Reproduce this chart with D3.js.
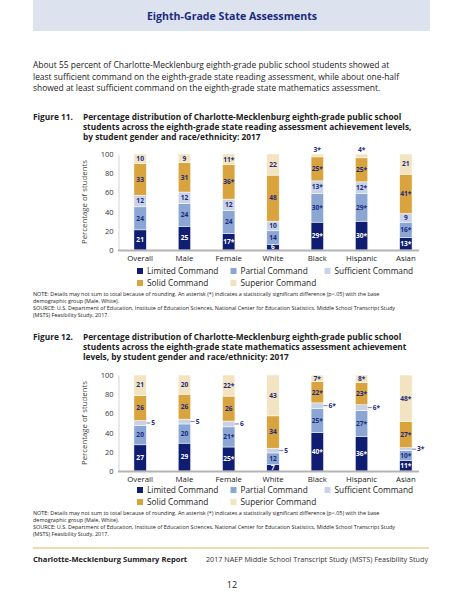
<!DOCTYPE html>
<html>
<head>
<meta charset="utf-8">
<script src="https://cdn.jsdelivr.net/npm/d3@7"></script>
<style>
  body { margin: 0; background: #fff; }
  svg { display: block; font-family: "Open Sans", "Noto Sans", sans-serif; }
</style>
</head>
<body>
<div id="vis"></div>
<script>
const width = 464;
const height = 600;

const categories = ["Overall", "Male", "Female", "White", "Black", "Hispanic", "Asian"];
const levels = ["Limited Command", "Partial Command", "Sufficient Command", "Solid Command", "Superior Command"];
const levelColors = ["#0f1d72", "#8ca6d4", "#c9d3e7", "#d9a43e", "#f3e4c1"];

// Figure 11: reading
const readLimited    = [21, 25, 17, 6, 29, 30, 13];
const readPartial    = [24, 24, 24, 14, 30, 29, 16];
const readSufficient = [12, 12, 12, 10, 13, 12, 9];
const readSolid      = [33, 31, 36, 48, 25, 25, 41];
const readSuperior   = [10, 9, 11, 22, 3, 4, 21];
// asterisk flags (significant difference from base group)
const readLimitedSig    = [0, 0, 1, 0, 1, 1, 1];
const readPartialSig    = [0, 0, 0, 0, 1, 1, 1];
const readSufficientSig = [0, 0, 0, 0, 1, 1, 0];
const readSolidSig      = [0, 0, 1, 0, 1, 1, 1];
const readSuperiorSig   = [0, 0, 1, 0, 1, 1, 0];

// Figure 12: mathematics
const mathLimited    = [27, 29, 25, 7, 40, 36, 11];
const mathPartial    = [20, 20, 21, 12, 25, 27, 10];
const mathSufficient = [5, 5, 6, 5, 6, 6, 3];
const mathSolid      = [26, 26, 26, 34, 22, 23, 27];
const mathSuperior   = [21, 20, 22, 43, 7, 8, 48];
const mathLimitedSig    = [0, 0, 1, 0, 1, 1, 1];
const mathPartialSig    = [0, 0, 1, 0, 1, 1, 1];
const mathSufficientSig = [0, 0, 0, 0, 1, 1, 1];
const mathSolidSig      = [0, 0, 0, 0, 1, 1, 1];
const mathSuperiorSig   = [0, 0, 1, 0, 1, 1, 1];

const yTicks = [0, 20, 40, 60, 80, 100];

const navy = "#1b2a80";

function buildRows(series, sigs) {
  return categories.map((c, i) => {
    const row = { category: c };
    levels.forEach((l, j) => {
      row[l] = series[j][i];
      row[l + "_sig"] = sigs[j][i];
    });
    return row;
  });
}

const svg = d3.select("#vis").append("svg")
  .attr("width", width)
  .attr("height", height);

// header band
svg.append("rect").attr("x", 33).attr("y", 0).attr("width", 397).attr("height", 31).attr("fill", "#dce3ee");
svg.append("text").attr("x", 232).attr("y", 19.5).attr("text-anchor", "middle")
  .attr("font-size", 10.6).attr("font-weight", 700).attr("fill", navy)
  .text("Eighth-Grade State Assessments");

// intro paragraph
const intro = [
  "About 55 percent of Charlotte-Mecklenburg eighth-grade public school students showed at",
  "least sufficient command on the eighth-grade state reading assessment, while about one-half",
  "showed at least sufficient command on the eighth-grade state mathematics assessment."
];
svg.append("g").selectAll("text").data(intro).enter().append("text")
  .attr("x", 33).attr("y", (d, i) => 68 + i * 11.7)
  .attr("font-size", 8.45).attr("fill", "#222").text(d => d);

function figureTitle(top, num, lines) {
  const g = svg.append("g").attr("font-size", 8.3).attr("font-weight", 700).attr("fill", "#222");
  g.append("text").attr("x", 33).attr("y", top).text(num);
  g.selectAll("text.t").data(lines).enter().append("text").attr("class", "t")
    .attr("x", 83).attr("y", (d, i) => top + i * 10.2).text(d => d);
}

figureTitle(120, "Figure 11.", [
  "Percentage distribution of Charlotte-Mecklenburg eighth-grade public school",
  "students across the eighth-grade state reading assessment achievement levels,",
  "by student gender and race/ethnicity: 2017"
]);

figureTitle(340, "Figure 12.", [
  "Percentage distribution of Charlotte-Mecklenburg eighth-grade public school",
  "students across the eighth-grade state mathematics assessment achievement",
  "levels, by student gender and race/ethnicity: 2017"
]);

function drawChart(rows, top, bottom) {
  const x = d3.scaleBand().domain(categories).range([118, 428]).paddingInner(0.72).paddingOuter(0.36);
  const y = d3.scaleLinear().domain([0, 1]).range([bottom, top]);
  const stack = d3.stack().keys(levels).offset(d3.stackOffsetExpand);
  const series = stack(rows);

  const g = svg.append("g");

  // y axis
  const yAxis = d3.axisLeft(y).tickValues(yTicks.map(d => d / 100))
    .tickFormat(d => Math.round(d * 100)).tickSize(0).tickPadding(5);
  const ax = g.append("g").attr("transform", "translate(118.5,0)").call(yAxis);
  ax.select(".domain").attr("stroke", "#c8c8c8").attr("stroke-width", 0.8);
  ax.selectAll("text").attr("font-size", 7.5).attr("fill", "#333")
    .attr("font-family", "Open Sans, sans-serif");

  g.append("text")
    .attr("transform", "translate(87," + ((top + bottom) / 2) + ") rotate(-90)")
    .attr("text-anchor", "middle").attr("font-size", 7.8).attr("fill", "#444")
    .text("Percentage of students");

  // bars
  const layer = g.selectAll("g.layer").data(series).enter().append("g")
    .attr("class", "layer").attr("fill", (d, i) => levelColors[i]);
  layer.selectAll("rect").data(d => d).enter().append("rect")
    .attr("x", d => x(d.data.category))
    .attr("width", x.bandwidth())
    .attr("y", d => y(d[1]))
    .attr("height", d => y(d[0]) - y(d[1]))
    .attr("stroke", "#fff").attr("stroke-width", 0.5);

  // baseline
  g.append("line").attr("x1", 118).attr("x2", x("Asian") + x.bandwidth() + 7)
    .attr("y1", bottom + 0.5).attr("y2", bottom + 0.5)
    .attr("stroke", "#b4b4b4").attr("stroke-width", 2);

  // value labels
  series.forEach((s, li) => {
    const key = levels[li];
    s.forEach(d => {
      const v = d.data[key];
      const label = v + (d.data[key + "_sig"] ? "*" : "");
      const cx = x(d.data.category) + x.bandwidth() / 2;
      const cy = (y(d[0]) + y(d[1])) / 2;
      const lbl = g.append("text").attr("font-size", 6.6).attr("font-weight", 700)
        .attr("fill", li === 0 ? "#fff" : navy).text(label);
      if (li === levels.length - 1 && v < 5) {
        lbl.attr("x", cx).attr("y", y(d[1]) - 2.5).attr("text-anchor", "middle");
      } else if (li === 2 && v <= 6) {
        const xr = x(d.data.category) + x.bandwidth();
        g.append("line").attr("x1", xr).attr("x2", xr + 4).attr("y1", cy).attr("y2", cy)
          .attr("stroke", navy).attr("stroke-width", 0.6);
        lbl.attr("x", xr + 5).attr("y", cy + 2.3);
      } else {
        lbl.attr("x", cx).attr("y", cy + 2.3).attr("text-anchor", "middle");
      }
    });
  });

  // category labels
  g.selectAll("text.cat").data(categories).enter().append("text").attr("class", "cat")
    .attr("x", d => x(d) + x.bandwidth() / 2).attr("y", bottom + 11)
    .attr("text-anchor", "middle").attr("font-size", 7.8).attr("fill", "#222")
    .text(d => d);
}

function drawLegend(top) {
  const cols = [137, 230.5, 324.5];
  const g = svg.append("g");
  const item = g.selectAll("g").data(levels).enter().append("g")
    .attr("transform", (d, i) => "translate(" + cols[i % 3] + "," + (top + Math.floor(i / 3) * 12) + ")");
  item.append("rect").attr("x", 0).attr("y", -3).attr("width", 6).attr("height", 6)
    .attr("fill", (d, i) => levelColors[i]);
  item.append("text").attr("x", 10).attr("y", 2.9).attr("font-size", 8.3).attr("fill", "#222")
    .text(d => d);
}

function drawNote(top) {
  const lines = [
    "NOTE: Details may not sum to total because of rounding. An asterisk (*) indicates a statistically significant difference (p<.05) with the base",
    "demographic group (Male, White).",
    "SOURCE: U.S. Department of Education, Institute of Education Sciences, National Center for Education Statistics, Middle School Transcript Study",
    "(MSTS) Feasibility Study, 2017."
  ];
  svg.append("g").selectAll("text").data(lines).enter().append("text")
    .attr("x", 33).attr("y", (d, i) => top + i * 6.9)
    .attr("font-size", 5.45).attr("fill", "#222")
    .text(d => d);
}

const readRows = buildRows(
  [readLimited, readPartial, readSufficient, readSolid, readSuperior],
  [readLimitedSig, readPartialSig, readSufficientSig, readSolidSig, readSuperiorSig]);
const mathRows = buildRows(
  [mathLimited, mathPartial, mathSufficient, mathSolid, mathSuperior],
  [mathLimitedSig, mathPartialSig, mathSufficientSig, mathSolidSig, mathSuperiorSig]);

drawChart(readRows, 154, 250);
drawLegend(271);
drawNote(296);

drawChart(mathRows, 375, 471);
drawLegend(490);
drawNote(515);

// footer
svg.append("line").attr("x1", 33).attr("x2", 429).attr("y1", 548).attr("y2", 548)
  .attr("stroke", "#e2b45a").attr("stroke-width", 1);
svg.append("text").attr("x", 33).attr("y", 562).attr("font-size", 7.6).attr("font-weight", 700)
  .attr("fill", "#222").text("Charlotte-Mecklenburg Summary Report");
svg.append("text").attr("x", 428).attr("y", 562).attr("text-anchor", "end").attr("font-size", 7.2)
  .attr("fill", "#333").text("2017 NAEP Middle School Transcript Study (MSTS) Feasibility Study");
svg.append("text").attr("x", 232).attr("y", 588).attr("text-anchor", "middle").attr("font-size", 9)
  .attr("fill", "#222").text("12");
</script>
</body>
</html>
